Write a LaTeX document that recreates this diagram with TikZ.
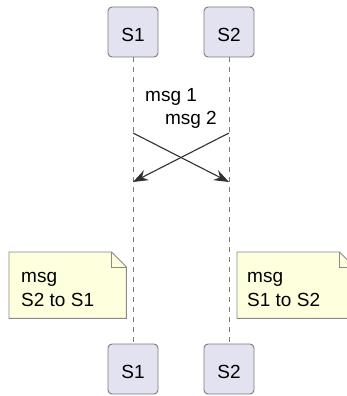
\documentclass[tikz,border=0pt]{standalone}
\usepackage{fontspec}
\setmainfont{Liberation Sans}
\usetikzlibrary{arrows.meta}
\definecolor{partfill}{HTML}{E2E2F0}
\definecolor{partdraw}{HTML}{7A7A7A}
\definecolor{lifecol}{HTML}{7A7A7A}
\definecolor{arrowcol}{HTML}{303030}
\definecolor{notefill}{HTML}{FEFFDD}
\definecolor{notedraw}{HTML}{8A8A8A}
\begin{document}
\begin{tikzpicture}[x=1pt,y=-1pt,
  part/.style={draw=partdraw, fill=partfill, rounded corners=4pt,
    minimum width=50pt, minimum height=50pt, inner sep=0pt, line width=0.9pt,
    text height=19.6pt, text depth=0pt,
    font=\fontsize{19}{23}\selectfont},
  life/.style={draw=lifecol, dash pattern=on 5pt off 5pt, line width=0.9pt},
  msgarrow/.style={draw=arrowcol, line width=1.1pt,
    -{Stealth[length=15pt,width=11pt,inset=5pt]}},
  msglabel/.style={inner sep=0pt, font=\fontsize{19}{23}\selectfont},
  noteshape/.style={minimum width=117pt, minimum height=66pt, inner sep=0pt,
    anchor=north west},
  noteline/.style={draw=notedraw, fill=notefill, line width=0.9pt, line join=miter},
  notetext/.style={inner sep=0pt, anchor=north west, align=left,
    font=\fontsize{19}{24}\selectfont}
]
\useasboundingbox (0,0) rectangle (347,396);
\fill[white] (0,0) rectangle (347,396);

% participants
\node[part] (s1top) at (133,32) {S1};
\node[part] (s2top) at (229,32) {S2};
\node[part] (s1bot) at (133,369) {S1};
\node[part] (s2bot) at (229,369) {S2};

% lifelines
\draw[life] (s1top.south) -- (s1bot.north);
\draw[life] (s2top.south) -- (s2bot.north);

% message end points
\coordinate (a1s) at (133,133);
\coordinate (a1e) at (229,182);
\coordinate (a2s) at (229,133);
\coordinate (a2e) at (133,182);

\node[msglabel, anchor=base west] (m1) at (145,101) {msg 1};
\node[msglabel, anchor=base east] (m2) at (217,124) {msg 2};

\draw[msgarrow] (a1s) -- (a1e);
\draw[msgarrow] (a2s) -- (a2e);

% notes
\node[noteshape] (n1) at (9,252) {};
\draw[noteline] (n1.north west) -- ([xshift=-15pt]n1.north east)
  -- ([yshift=-15pt]n1.north east) -- (n1.south east) -- (n1.south west) -- cycle;
\draw[noteline, fill=none] ([xshift=-15pt]n1.north east)
  -- ([xshift=-15pt,yshift=-15pt]n1.north east) -- ([yshift=-15pt]n1.north east);
\node[notetext] (t1) at ([xshift=12pt,yshift=-20pt]n1.north west) {msg\\S2 to S1};

\node[noteshape] (n2) at (237,252) {};
\draw[noteline] (n2.north west) -- ([xshift=-15pt]n2.north east)
  -- ([yshift=-15pt]n2.north east) -- (n2.south east) -- (n2.south west) -- cycle;
\draw[noteline, fill=none] ([xshift=-15pt]n2.north east)
  -- ([xshift=-15pt,yshift=-15pt]n2.north east) -- ([yshift=-15pt]n2.north east);
\node[notetext] (t2) at ([xshift=10pt,yshift=-20pt]n2.north west) {msg\\S1 to S2};
\end{tikzpicture}
\end{document}
